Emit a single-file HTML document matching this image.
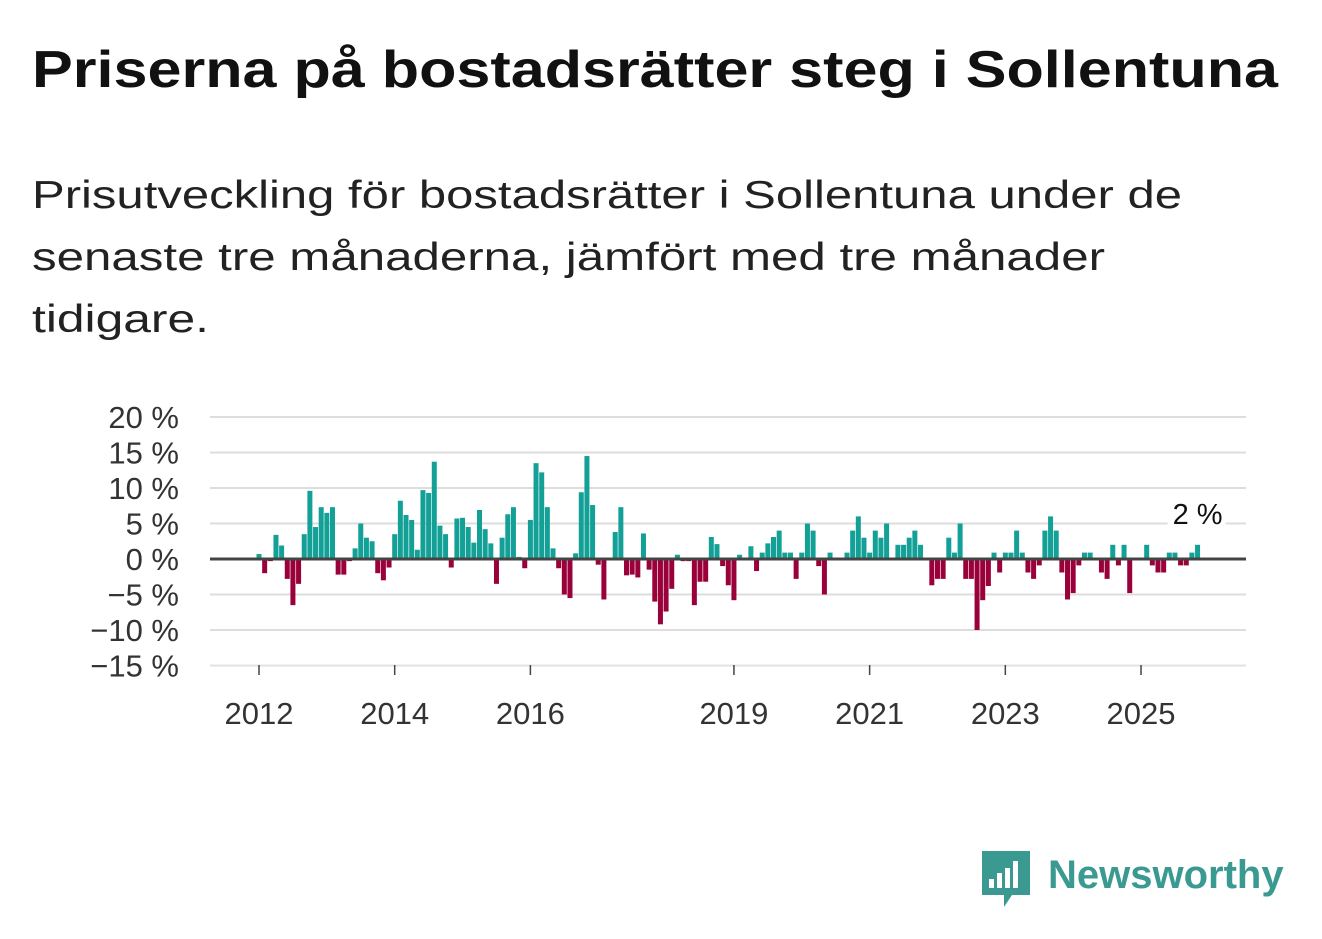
<!DOCTYPE html>
<html><head><meta charset="utf-8"><style>
body{margin:0;width:1322px;height:939px;background:#fff;font-family:"Liberation Sans",sans-serif;overflow:hidden;position:relative}
.fit{position:absolute;left:32px;margin:0;white-space:nowrap;transform-origin:0 0}
.t{font-size:52px;font-weight:bold;color:#111}
.s{font-size:39px;color:#222}
svg{position:absolute;left:0;top:0}
</style></head><body>
<div class="fit t" data-w="1246" style="top:40px">Priserna på bostadsrätter steg i Sollentuna</div>
<div class="fit s" data-w="1150" style="top:174px">Prisutveckling för bostadsrätter i Sollentuna under de</div>
<div class="fit s" data-w="1073" style="top:236px">senaste tre månaderna, jämfört med tre månader</div>
<div class="fit s" data-w="177" style="top:298px">tidigare.</div>
<svg id="c" width="1322" height="939"></svg>
<div style="position:absolute;left:982px;top:851px;">
<svg width="48" height="58" style="position:absolute;left:0;top:0"><path d="M0 0H48V44H30L22 56L22 44H0Z" fill="#3a9a92"/><rect x="7" y="28" width="5" height="9" fill="#fff"/><rect x="15" y="22" width="5" height="15" fill="#fff"/><rect x="23" y="17" width="5" height="20" fill="#fff"/><rect x="31" y="10" width="5" height="27" fill="#fff"/></svg>
<span style="position:absolute;left:66px;top:2px;font-size:40px;font-weight:bold;color:#3a9a92;white-space:nowrap">Newsworthy</span></div>
<script>
document.querySelectorAll('.fit').forEach(d=>{const w=d.getBoundingClientRect().width;d.style.transform='scaleX('+(+d.dataset.w/w)+')';});
const values=[0.7,-2,-0.3,3.4,1.9,-2.8,-6.5,-3.5,3.5,9.6,4.5,7.3,6.5,7.3,-2.2,-2.2,-0.3,1.5,5,3,2.5,-2,-3,-1.2,3.5,8.2,6.2,5.5,1.3,9.7,9.3,13.7,4.7,3.5,-1.2,5.7,5.8,4.5,2.3,6.9,4.2,2.2,-3.5,3,6.3,7.3,0.3,-1.3,5.5,13.5,12.2,7.3,1.5,-1.3,-5,-5.5,0.8,9.4,14.5,7.6,-0.8,-5.7,0,3.8,7.3,-2.3,-2.2,-2.6,3.6,-1.5,-6,-9.2,-7.4,-4.2,0.6,-0.3,-0.3,-6.5,-3.2,-3.2,3.1,2.1,-1,-3.7,-5.8,0.6,0,1.8,-1.7,0.9,2.2,3.1,4,0.9,0.9,-2.8,0.9,5,4,-1,-5,0.9,0,0,0.9,4,6,3,0.9,4,3,5,0,2,2,3,4,2,0,-3.7,-2.8,-2.8,3,0.9,5,-2.8,-2.8,-10,-5.8,-3.8,0.9,-1.9,0.9,0.9,4,0.9,-1.9,-2.8,-0.9,4,6,4,-1.9,-5.7,-4.8,-0.9,0.9,0.9,0,-1.9,-2.8,2,-0.9,2,-4.8,0,0,2,-0.9,-1.9,-1.9,0.9,0.9,-0.9,-0.9,0.9,2];
const yTicks=[20,15,10,5,0,-5,-10,-15];
const yearLabels=["2012","2014","2016","2019","2021","2023","2025"];
const yearValues=[2012,2014,2016,2019,2021,2023,2025];
const lastLabel="2 %";
const NS="http://www.w3.org/2000/svg",svg=document.getElementById('c');
const y=v=>559-v*7.1;
const x=i=>259+i*5.654;
const xYear=yr=>x((yr-2012)*12);
function el(t,a){const e=document.createElementNS(NS,t);for(const k in a)e.setAttribute(k,a[k]);svg.appendChild(e);return e;}
yTicks.forEach(t=>{
 if(t!==0){const g=el('line',{x1:210,x2:1246,y1:y(t),y2:y(t),stroke:'#ddd','stroke-width':2});
 
 }
 const l=el('text',{x:179,y:y(t)+11,'text-anchor':'end','font-size':31,fill:'#333','font-family':'Liberation Sans, sans-serif'});
 l.textContent=(t<0?'−'+(-t):t)+' %';
 
 
});
const b=el('line',{x1:210,x2:1246,y1:665,y2:665,stroke:'#e6e6e6','stroke-width':1});


values.forEach((v,i)=>{
 const r=el('rect',{x:x(i)-2.5,width:5,y:Math.min(y(v),559),height:Math.abs(y(v)-559),fill:v>=0?'#13a096':'#9a003a'});
 
 
});
const z=el('line',{x1:210,x2:1246,y1:559,y2:559,stroke:'#444','stroke-width':3});


yearValues.forEach((yr,k)=>{
 const tk=el('line',{x1:xYear(yr),x2:xYear(yr),y1:665,y2:675,stroke:'#444','stroke-width':1.5});
 
 
 const t=el('text',{x:xYear(yr),y:724,'text-anchor':'middle','font-size':31,fill:'#333','font-family':'Liberation Sans, sans-serif'});
 t.textContent=yearLabels[k];
 
 
});
const li=values.length-1;
const bg=el('rect',{x:x(li)-30,y:496,width:58,height:32,fill:'#fff'});


const lv=el('text',{x:x(li),y:524,'text-anchor':'middle','font-size':29,fill:'#111','font-family':'Liberation Sans, sans-serif'});
lv.textContent=lastLabel;


</script>
</body></html>
